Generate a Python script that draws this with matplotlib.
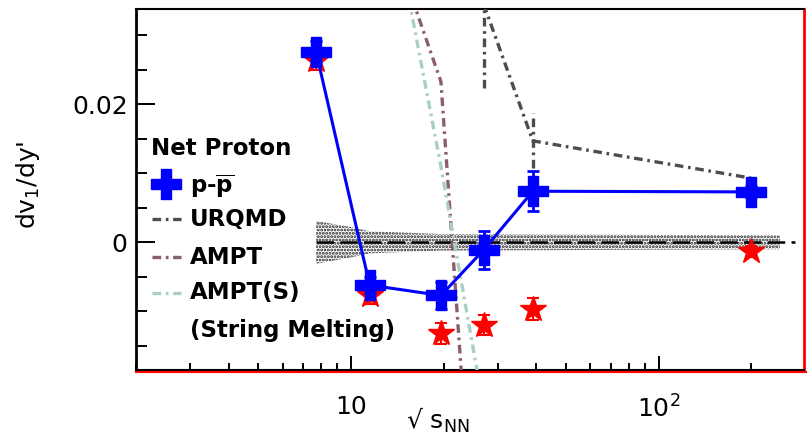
import matplotlib
matplotlib.use("Agg")
import matplotlib.pyplot as plt
from matplotlib.lines import Line2D
from matplotlib.ticker import LogLocator, NullFormatter, MultipleLocator

# net proton dv1/dy' (blue crosses)
energies = [7.7, 11.5, 19.6, 27, 39, 200]
pp_v1 = [0.0276, -0.0062, -0.0077, -0.0011, 0.0074, 0.0073]
pp_err = [0.0015, 0.0012, 0.0020, 0.0027, 0.0029, 0.0008]

# red stars
star_v1 = [0.0264, -0.0076, -0.0132, -0.0120, -0.0096, -0.0013]
star_err = [0.0015, 0.0014, 0.0015, 0.0015, 0.0016, 0.0008]

# systematic band around zero
band_x = [7.7, 10, 11.5, 19.6, 248]
band_half = [0.0031, 0.0022, 0.0016, 0.0012, 0.0010]

# model curves
urqmd_x = [27, 39, 200]
urqmd_y = [0.0345, 0.0147, 0.0093]
urqmd_err = [0.0122, 0.0040, 0.0]
ampt_x = [11.5, 19.6, 27]
ampt_y = [0.053, 0.0233, -0.065]
ampts_x = [11.5, 19.6, 27]
ampts_y = [0.065, 0.011, -0.024]

W, H = 807, 440
fig = plt.figure(figsize=(W / 100, H / 100), dpi=100)
ax = fig.add_axes([136 / W, 1 - 370 / H, 668 / W, 361 / H])

def fx(px):
    return px / W

def fy(py):
    return 1 - py / H

plt.rcParams['hatch.linewidth'] = 1.4
ax.fill_between(band_x, [-h for h in band_half], band_half, facecolor='none',
                edgecolor='#222222', hatch='.....', linewidth=0, zorder=1)
ax.plot([7.7, 277], [0, 0], color='black', lw=1.8, dashes=(7, 2.5), zorder=2)

dd = (2.6, 1.4, 0.8, 1.4)
ax.plot(urqmd_x, urqmd_y, color='#4d4d4d', lw=2.4, dashes=dd, zorder=3)
for x, y, e in zip(urqmd_x, urqmd_y, urqmd_err):
    if e > 0:
        ax.plot([x, x], [y - e, y + e], color='#4d4d4d', lw=2.4, dashes=dd, zorder=3)
ax.plot(ampt_x, ampt_y, color='#8a5f6a', lw=2.4, dashes=dd, zorder=3)
ax.plot(ampts_x, ampts_y, color='#a9d0c5', lw=2.4, dashes=dd, zorder=3)

ax.errorbar(energies, star_v1, yerr=star_err, fmt='*', color='red', ms=19,
            elinewidth=1.5, capsize=4, capthick=1.5, zorder=4)
ax.errorbar(energies, pp_v1, yerr=pp_err, fmt='P-', color='blue', ms=21,
            lw=2.2, elinewidth=2, capsize=4, capthick=2, zorder=5)

ax.set_xscale('log')
ax.set_xlim(2.0, 297)
ax.set_ylim(-0.0185, 0.0338)

ax.set_xticks([10, 100])
ax.set_xticklabels(['10', r'$10^2$'])
ax.xaxis.set_minor_locator(LogLocator(base=10, subs=range(2, 10)))
ax.xaxis.set_minor_formatter(NullFormatter())
ax.set_yticks([0, 0.02])
ax.set_yticklabels(['0', '0.02'])
ax.yaxis.set_minor_locator(MultipleLocator(0.005))

ax.tick_params(axis='both', which='both', direction='in', top=False, right=False,
               labelsize=18, width=1.4)
ax.tick_params(axis='y', which='major', length=14, pad=6)
ax.tick_params(axis='y', which='minor', length=8)
ax.tick_params(axis='x', which='major', length=10, pad=18)
ax.tick_params(axis='x', which='minor', length=5)

ax.spines['left'].set_linewidth(2)
ax.spines['top'].set_linewidth(1.5)
ax.spines['bottom'].set_linewidth(1.5)
ax.spines['right'].set_color('red')
ax.spines['right'].set_linewidth(2)
fig.add_artist(Line2D([fx(136), fx(806)], [fy(371.5), fy(371.5)], color='red', lw=1.5))

fig.text(fx(28), fy(185), r"dv$_1$/dy'", rotation=90, ha='center', va='center', fontsize=18)
fig.text(fx(438), fy(420), '\u221a s$_{\\rm NN}$', ha='center', va='center', fontsize=18)

# legend
fs = 16.5
fig.text(fx(151), fy(148), 'Net Proton', fontsize=fs, fontweight='bold', va='center')
fig.add_artist(Line2D([fx(166)], [fy(184)], marker='P', color='blue', ms=21, lw=0))
fig.text(fx(190), fy(186), r'p-$\mathbf{\overline{p}}$', fontsize=fs, fontweight='bold', va='center')
legend_items = [('URQMD', '#4d4d4d', 219), ('AMPT', '#8a5f6a', 257), ('AMPT(S)', '#a9d0c5', 293)]
for name, col, py in legend_items:
    fig.add_artist(Line2D([fx(152), fx(181)], [fy(py), fy(py)], color=col, lw=2.4, dashes=dd))
    fig.text(fx(190), fy(py), name, fontsize=fs, fontweight='bold', va='center')
fig.text(fx(190), fy(330), '(String Melting)', fontsize=fs, fontweight='bold', va='center')

fig.savefig('out.png', dpi=100)
